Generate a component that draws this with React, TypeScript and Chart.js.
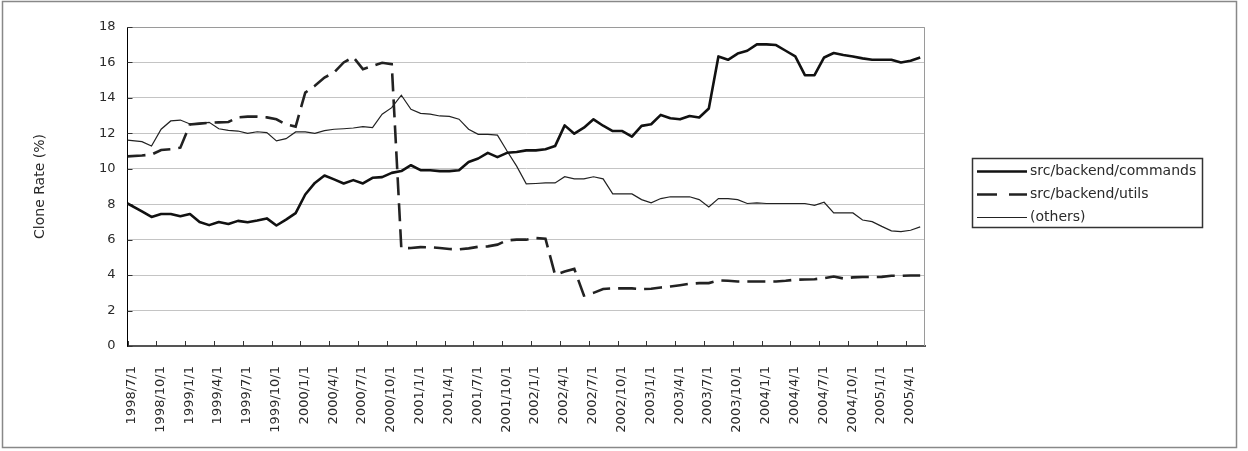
import React, { useEffect, useRef } from "react";
import { Chart, registerables } from "chart.js";

Chart.register(...registerables);

// Sample times, in months since 1998/7/1
const SAMPLE_MONTHS = [
  0, 1.5, 2.5, 3.5, 4.5, 5.5, 6.5, 7.5, 8.5, 9.5, 10.5, 11.5, 12.5, 13.5, 14.5, 15.5, 16.5,
  17.5, 18.5, 19.5, 20.5, 21.5, 22.5, 23.5, 24.5, 25.5, 26.5, 27.5, 28.5, 29.5, 30.5, 31.5, 32.5,
  33.5, 34.5, 35.5, 36.5, 37.5, 38.5, 39.5, 40.5, 41.5, 42.5, 43.5, 44.5, 45.5, 46.5, 47.5, 48.5, 49.5,
  50.5, 51.5, 52.5, 53.5, 54.5, 55.5, 56.5, 57.5, 58.5, 59.5, 60.5, 61.5, 62.5, 63.5, 64.5, 65.5, 66.5,
  67.5, 68.5, 69.5, 70.5, 71.5, 72.5, 73.5, 74.5, 75.5, 76.5, 77.5, 78.5, 79.5, 80.5, 81.5, 82.5,
];

const TICK_LABELS = [
  "1998/7/1", "1998/10/1", "1999/1/1", "1999/4/1", "1999/7/1", "1999/10/1",
  "2000/1/1", "2000/4/1", "2000/7/1", "2000/10/1", "2001/1/1", "2001/4/1",
  "2001/7/1", "2001/10/1", "2002/1/1", "2002/4/1", "2002/7/1", "2002/10/1",
  "2003/1/1", "2003/4/1", "2003/7/1", "2003/10/1", "2004/1/1", "2004/4/1",
  "2004/7/1", "2004/10/1", "2005/1/1", "2005/4/1",
];

const SERIES_NAMES = ["src/backend/commands", "src/backend/utils", "(others)"];

const COMMANDS = [
  8.04, 7.6, 7.28, 7.45, 7.45, 7.32, 7.45, 7.0, 6.82, 7.0, 6.88, 7.06, 6.98, 7.08, 7.2, 6.8, 7.13,
  7.5, 8.55, 9.2, 9.62, 9.4, 9.17, 9.36, 9.17, 9.49, 9.53, 9.77, 9.87, 10.2, 9.92, 9.92, 9.87,
  9.87, 9.92, 10.38, 10.58, 10.9, 10.66, 10.9, 10.95, 11.04, 11.04, 11.1, 11.28, 12.45, 11.98, 12.32, 12.79, 12.43,
  12.13, 12.13, 11.81, 12.42, 12.51, 13.04, 12.85, 12.79, 12.98, 12.89, 13.4, 16.34, 16.15, 16.5, 16.66, 17.02, 17.02,
  16.98, 16.66, 16.34, 15.28, 15.28, 16.28, 16.53, 16.42, 16.34, 16.23, 16.15, 16.15, 16.15, 16.0, 16.1, 16.28,
];

const UTILS = [
  10.7, 10.75, 10.8, 11.06, 11.1, 11.19, 12.5, 12.55, 12.6, 12.62, 12.64, 12.9, 12.94, 12.94, 12.9, 12.79, 12.5,
  12.38, 14.3, 14.68, 15.15, 15.43, 16.0, 16.3, 15.62, 15.8, 15.98, 15.9, 5.5, 5.53, 5.58, 5.57, 5.53,
  5.47, 5.45, 5.51, 5.6, 5.62, 5.72, 5.96, 6.0, 6.0, 6.09, 6.05, 4.02, 4.2, 4.35, 2.85, 3.0, 3.22,
  3.25, 3.25, 3.25, 3.21, 3.23, 3.3, 3.36, 3.43, 3.51, 3.55, 3.55, 3.7, 3.68, 3.64, 3.64, 3.64, 3.64,
  3.64, 3.68, 3.74, 3.75, 3.77, 3.83, 3.92, 3.81, 3.87, 3.89, 3.89, 3.9, 3.96, 3.96, 3.98, 3.98,
];

const OTHERS = [
  11.62, 11.53, 11.28, 12.23, 12.7, 12.75, 12.53, 12.57, 12.62, 12.26, 12.17, 12.13, 12.0, 12.09, 12.04, 11.57, 11.7,
  12.08, 12.08, 12.0, 12.15, 12.23, 12.26, 12.3, 12.38, 12.32, 13.08, 13.45, 14.15, 13.36, 13.13, 13.08, 12.98,
  12.96, 12.8, 12.23, 11.94, 11.94, 11.9, 11.0, 10.15, 9.15, 9.17, 9.2, 9.2, 9.55, 9.43, 9.43, 9.55, 9.43,
  8.58, 8.58, 8.58, 8.26, 8.08, 8.32, 8.42, 8.42, 8.42, 8.26, 7.85, 8.32, 8.32, 8.26, 8.04, 8.08, 8.04,
  8.04, 8.04, 8.04, 8.04, 7.94, 8.11, 7.51, 7.51, 7.51, 7.11, 7.02, 6.75, 6.5, 6.45, 6.53, 6.72,
];

const toPoints = (vals: number[]) => vals.map((v, i) => ({ x: SAMPLE_MONTHS[i], y: v }));

const TEXT_COLOR = "#2a2a2a";
const FONT = "DejaVu Sans";

const decorations = {
  id: "decorations",
  beforeDatasetsDraw(chart: any) {
    const { ctx, chartArea: a, scales } = chart;
    ctx.save();
    // plot-area frame (top and right)
    ctx.strokeStyle = "#9a9a9a";
    ctx.lineWidth = 1;
    ctx.beginPath();
    ctx.moveTo(a.left, Math.round(a.top) + 0.5);
    ctx.lineTo(Math.round(a.right) - 0.5, Math.round(a.top) + 0.5);
    ctx.lineTo(Math.round(a.right) - 0.5, a.bottom);
    ctx.stroke();
    // inward tick marks
    ctx.strokeStyle = "#333";
    ctx.beginPath();
    const xs = scales.x;
    xs.ticks.forEach((t: any) => {
      const px = Math.round(xs.getPixelForValue(t.value)) + 0.5;
      ctx.moveTo(px, a.bottom);
      ctx.lineTo(px, a.bottom - 5);
    });
    const ys = scales.y;
    ys.ticks.forEach((t: any) => {
      const py = Math.round(ys.getPixelForValue(t.value)) + 0.5;
      ctx.moveTo(a.left, py);
      ctx.lineTo(a.left + 5, py);
    });
    ctx.stroke();
    ctx.restore();
  },
  afterDraw(chart: any) {
    const { ctx } = chart;
    ctx.save();
    // outer frame
    ctx.strokeStyle = "#888";
    ctx.lineWidth = 1.5;
    ctx.strokeRect(2.5, 1.5, 1234, 446);
    // legend box
    const bx = 972, by = 158, bw = 230, bh = 69;
    ctx.strokeStyle = "#333";
    ctx.lineWidth = 1.5;
    ctx.strokeRect(bx + 0.5, by + 0.5, bw, bh);
    const rows = [171.5, 194.5, 217.5];
    chart.data.datasets.forEach((ds: any, i: number) => {
      const y = rows[i];
      ctx.beginPath();
      ctx.setLineDash(ds.borderDash ? [20, 12] : []);
      ctx.strokeStyle = ds.borderColor;
      ctx.lineWidth = ds.borderWidth;
      ctx.moveTo(977, y);
      ctx.lineTo(1027, y);
      ctx.stroke();
      ctx.setLineDash([]);
      ctx.fillStyle = TEXT_COLOR;
      ctx.font = `14px "${FONT}"`;
      ctx.textBaseline = "middle";
      ctx.textAlign = "left";
      ctx.fillText(ds.label, 1030, y);
    });
    ctx.restore();
  },
};

export default function App() {
  const ref = useRef<HTMLCanvasElement | null>(null);
  useEffect(() => {
    if (!ref.current) return;
    Chart.defaults.font.family = FONT;
    Chart.defaults.font.size = 13;
    Chart.defaults.color = TEXT_COLOR;
    const chart = new Chart(ref.current, {
      type: "line",
      data: {
        datasets: [
          {
            label: SERIES_NAMES[0],
            data: toPoints(COMMANDS),
            borderColor: "#111",
            borderWidth: 2.6,
            borderJoinStyle: "round",
            pointRadius: 0,
            tension: 0,
          },
          {
            label: SERIES_NAMES[1],
            data: toPoints(UTILS),
            borderColor: "#222",
            borderWidth: 2.6,
            borderDash: [18, 8],
            pointRadius: 0,
            tension: 0,
          },
          {
            label: SERIES_NAMES[2],
            data: toPoints(OTHERS),
            borderColor: "#222",
            borderWidth: 1.2,
            pointRadius: 0,
            tension: 0,
          },
        ],
      },
      options: {
        animation: false,
        responsive: false,
        devicePixelRatio: 1,
        layout: { padding: { left: 28, right: 323, top: 27, bottom: 5 } },
        plugins: { legend: { display: false }, tooltip: { enabled: false } },
        scales: {
          x: {
            type: "linear",
            min: 0,
            max: 83,
            afterBuildTicks: (s: any) => {
              s.ticks = TICK_LABELS.map((_, i) => ({ value: i * 3 }));
            },
            afterFit: (s: any) => {
              s.height = 100;
            },
            ticks: {
              autoSkip: false,
              minRotation: 90,
              maxRotation: 90,
              padding: 20,
              labelOffset: 4,
              callback: (v: any) => TICK_LABELS[Math.round(Number(v) / 3)],
            },
            grid: { display: false, drawTicks: false },
            border: { color: "#555", width: 2 },
          },
          y: {
            min: 0,
            max: 18,
            afterFit: (s: any) => {
              s.width = 99.5;
            },
            ticks: { stepSize: 2, padding: 12 },
            grid: { color: "#c4c4c4", drawTicks: false },
            border: { color: "#000", width: 1 },
            title: { display: true, text: "Clone Rate (%)", padding: 4, font: { size: 14 } },
          },
        },
      },
      plugins: [decorations],
    } as any);
    return () => chart.destroy();
  }, []);
  return (
    <div style={{ position: "absolute", left: 0, top: 0, width: 1248, height: 451, background: "#fff" }}>
      <canvas ref={ref} width={1248} height={451} style={{ display: "block" }} />
    </div>
  );
}
